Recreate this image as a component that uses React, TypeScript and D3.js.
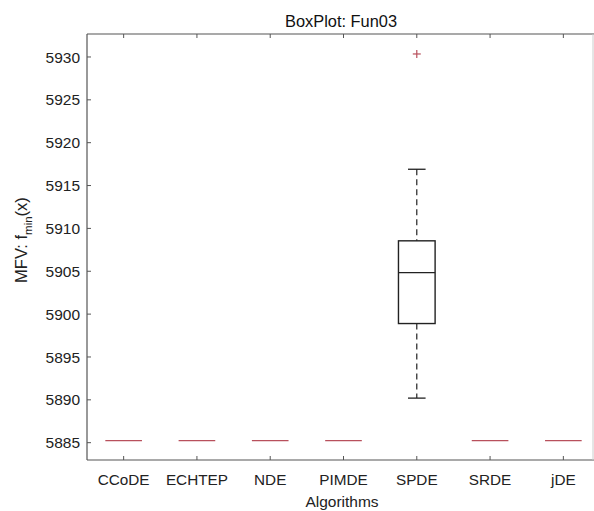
import React from "react";
import * as d3 from "d3";

const categories = ["CCoDE", "ECHTEP", "NDE", "PIMDE", "SPDE", "SRDE", "jDE"];
const lowerWhisker = [5885.25, 5885.25, 5885.25, 5885.25, 5890.2, 5885.25, 5885.25];
const q1 = [5885.25, 5885.25, 5885.25, 5885.25, 5898.9, 5885.25, 5885.25];
const median = [5885.25, 5885.25, 5885.25, 5885.25, 5904.85, 5885.25, 5885.25];
const q3 = [5885.25, 5885.25, 5885.25, 5885.25, 5908.55, 5885.25, 5885.25];
const upperWhisker = [5885.25, 5885.25, 5885.25, 5885.25, 5916.9, 5885.25, 5885.25];
const outliers = [
  { cat: "SPDE", value: 5930.35 },
];
const yTicks = [5885, 5890, 5895, 5900, 5905, 5910, 5915, 5920, 5925, 5930];

const W = 594;
const H = 511;
const left = 87;
const top = 34;
const bottom = 460;
const rightFrame = 593;
const font = "'Liberation Sans', Arial, Helvetica, sans-serif";

export default function App() {
  const x = d3.scaleLinear().domain([0.5, 7.5]).range([left, 600]);
  const y = d3.scaleLinear().domain([5882.98, 5932.68]).range([bottom, top]);
  const axisColor = "#555";
  const red = "#b8505c";
  const boxHalf = 0.25;
  const capHalf = 0.12;

  return (
    <svg
      width={W}
      height={H}
      style={{ position: "absolute", left: 0, top: 0, background: "#fff" }}
      fontFamily={font}
    >
      <rect x={0} y={0} width={W} height={H} fill="#fff" />
      {/* title */}
      <text x={341} y={27} textAnchor="middle" fontSize={16.4} fill="#111">
        BoxPlot: Fun03
      </text>

      {/* boxes */}
      {categories.map((c, i) => {
        const cx = x(i + 1);
        const same = q1[i] === q3[i] && lowerWhisker[i] === upperWhisker[i];
        return (
          <g key={c}>
            {!same && (
              <>
                <line x1={cx} x2={cx} y1={y(upperWhisker[i])} y2={y(q3[i])} stroke="#222" strokeWidth={1.2} strokeDasharray="6,4" />
                <line x1={cx} x2={cx} y1={y(q1[i])} y2={y(lowerWhisker[i])} stroke="#222" strokeWidth={1.2} strokeDasharray="6,4" />
                <line x1={x(i + 1 - capHalf)} x2={x(i + 1 + capHalf)} y1={y(upperWhisker[i])} y2={y(upperWhisker[i])} stroke="#222" strokeWidth={1.3} />
                <line x1={x(i + 1 - capHalf)} x2={x(i + 1 + capHalf)} y1={y(lowerWhisker[i])} y2={y(lowerWhisker[i])} stroke="#222" strokeWidth={1.3} />
                <rect x={x(i + 1 - boxHalf)} y={y(q3[i])} width={x(i + 1 + boxHalf) - x(i + 1 - boxHalf)} height={y(q1[i]) - y(q3[i])} fill="none" stroke="#222" strokeWidth={1.4} />
              </>
            )}
            <line
              x1={x(i + 1 - boxHalf)}
              x2={x(i + 1 + boxHalf)}
              y1={y(median[i])}
              y2={y(median[i])}
              stroke={same ? red : "#222"}
              strokeWidth={1.3}
            />
          </g>
        );
      })}

      {/* outliers */}
      {outliers.map((o, k) => {
        const cx = x(categories.indexOf(o.cat) + 1);
        const cy = y(o.value);
        return (
          <g key={k} stroke={red} strokeWidth={1.2}>
            <line x1={cx - 4} x2={cx + 4} y1={cy} y2={cy} />
            <line x1={cx} x2={cx} y1={cy - 4} y2={cy + 4} />
          </g>
        );
      })}

      {/* frame */}
      <line x1={left} x2={W} y1={top} y2={top} stroke={axisColor} strokeWidth={1.2} />
      <line x1={left} x2={W} y1={bottom} y2={bottom} stroke={axisColor} strokeWidth={1.2} />
      <line x1={left} x2={left} y1={top} y2={bottom} stroke={axisColor} strokeWidth={1.2} />
      <line x1={rightFrame} x2={rightFrame} y1={top} y2={bottom} stroke="#ccc" strokeWidth={1} />

      {/* y ticks */}
      {yTicks.map((t) => (
        <g key={t}>
          <line x1={left} x2={left + 4} y1={y(t)} y2={y(t)} stroke={axisColor} strokeWidth={1} />
          <text x={80} y={y(t)} dy="0.36em" textAnchor="end" fontSize={15.5} fill="#222">
            {t}
          </text>
        </g>
      ))}

      {/* x ticks */}
      {categories.map((c, i) => (
        <g key={c}>
          <line x1={x(i + 1)} x2={x(i + 1)} y1={bottom} y2={bottom - 4} stroke={axisColor} strokeWidth={1} />
          <line x1={x(i + 1)} x2={x(i + 1)} y1={top} y2={top + 4} stroke={axisColor} strokeWidth={1} />
          <text x={x(i + 1)} y={485} textAnchor="middle" fontSize={15.3} fill="#222">
            {c}
          </text>
        </g>
      ))}

      {/* x label */}
      <text x={342} y={507} textAnchor="middle" fontSize={15.5} fill="#222">
        Algorithms
      </text>

      {/* y label */}
      <text transform="translate(27,240) rotate(-90)" textAnchor="middle" fontSize={16.5} fill="#222">
        MFV: f
        <tspan fontSize={11.5} dy={5}>min</tspan>
        <tspan dy={-5}>(x)</tspan>
      </text>
    </svg>
  );
}
